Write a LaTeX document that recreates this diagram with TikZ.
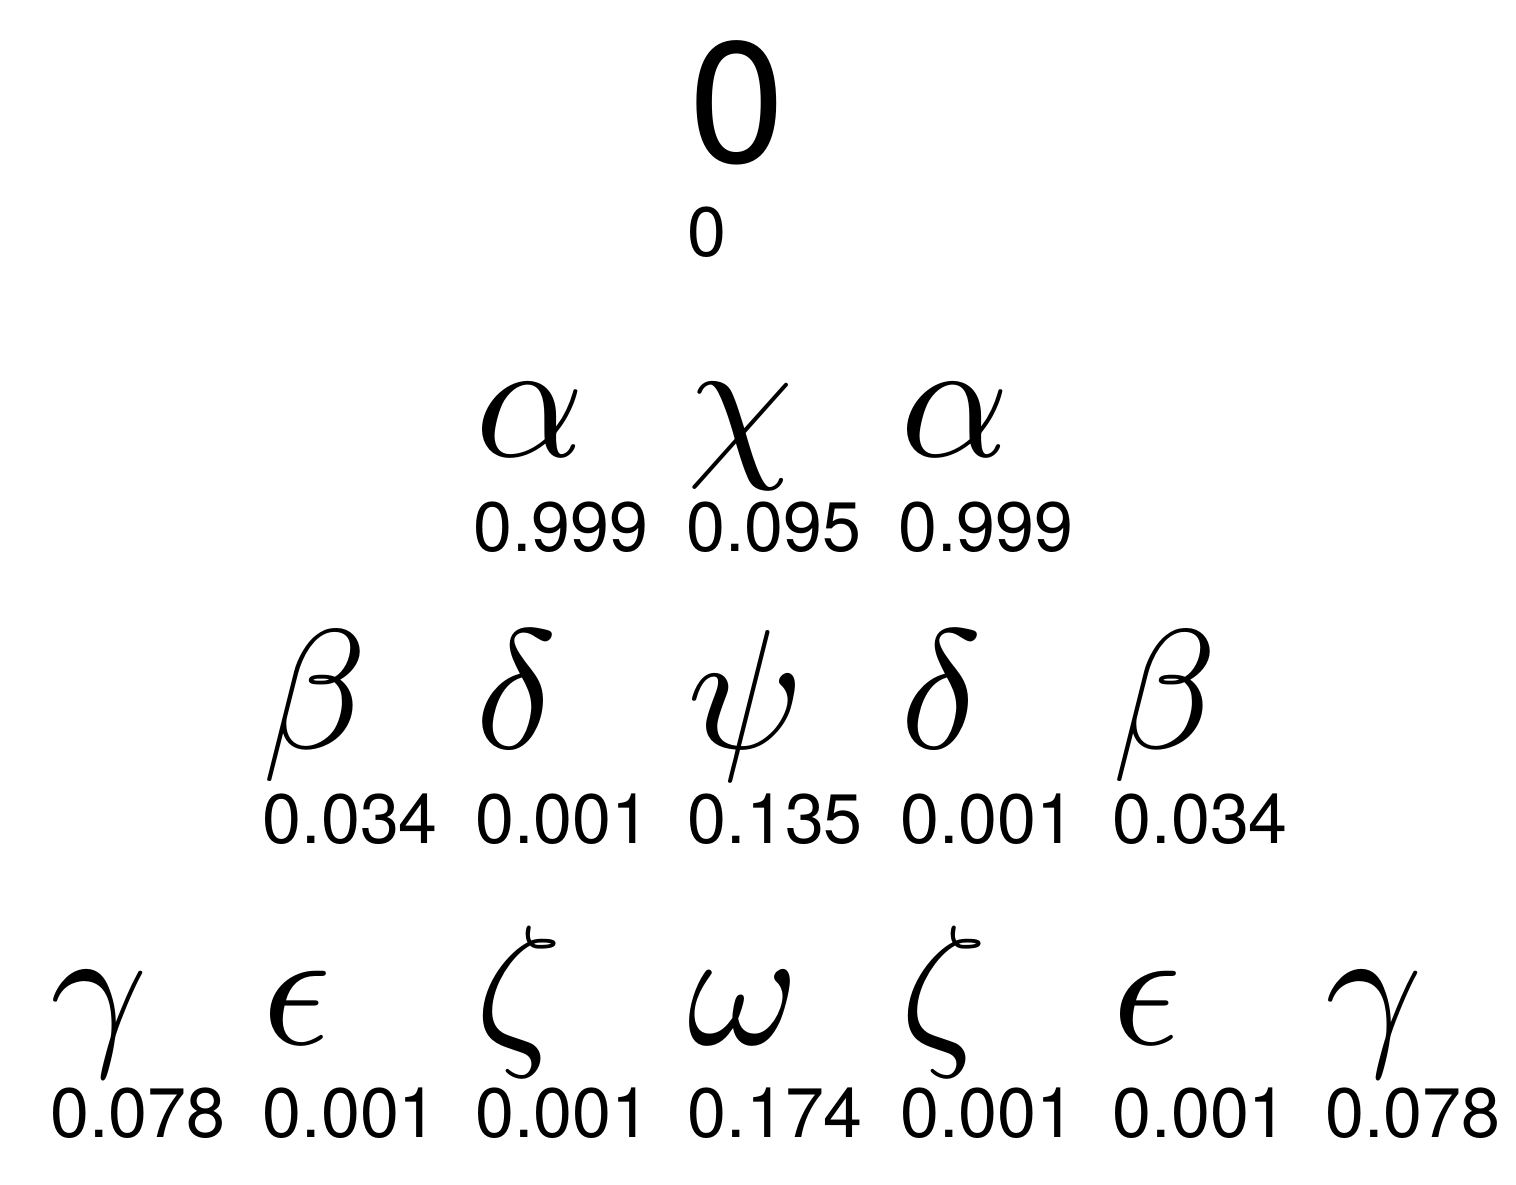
\documentclass[tikz,border=0pt]{standalone}
\usepackage{fontspec}
\setmainfont{TeX Gyre Heros}
\DeclareFontFamily{OML}{cmmx}{\skewchar\font'177}
\DeclareFontShape{OML}{cmmx}{m}{it}{<->cmmi10}{}
\DeclareSymbolFont{letters}{OML}{cmmx}{m}{it}
\tikzset{
  greek/.style={anchor=base west, inner sep=0pt, font=\fontsize{170}{170}\selectfont},
  weight/.style={anchor=base west, inner sep=0pt, font=\fontsize{70}{70}\selectfont},
  rootmark/.style={anchor=base west, inner sep=0pt, font=\fontsize{172}{172}\selectfont}
}

\begin{document}
\begin{tikzpicture}[x=1pt, y=-1pt]
  \useasboundingbox (0,0) rectangle (1516,1185);

  % Root
  \node[rootmark] (r0) at (689,163) {0};
  \node[weight] (w0) at (687.5,257) {0};

  % First row
  \node[greek] (a1) at (475,456) {$\alpha$};
  \node[greek] (x1) at (687.5,456) {$\chi$};
  \node[greek] (a2) at (900,456) {$\alpha$};
  \node[weight] (wa1) at (473,551) {0.999};
  \node[weight] (wx1) at (686,551) {0.095};
  \node[weight] (wa2) at (898,551) {0.999};

  % Second row
  \node[greek] (b1) at (262.5,748) {$\beta$};
  \node[greek] (d1) at (475,748) {$\delta$};
  \node[greek] (p1) at (687.5,748) {$\psi$};
  \node[greek] (d2) at (900,748) {$\delta$};
  \node[greek] (b2) at (1112.5,748) {$\beta$};
  \node[weight] (wb1) at (262.5,843) {0.034};
  \node[weight] (wd1) at (475,843) {0.001};
  \node[weight] (wp1) at (687.5,843) {0.135};
  \node[weight] (wd2) at (900,843) {0.001};
  \node[weight] (wb2) at (1112.5,843) {0.034};

  % Third row
  \node[greek] (g1) at (50,1044) {$\gamma$};
  \node[greek] (e1) at (262.5,1044) {$\epsilon$};
  \node[greek] (z1) at (475,1044) {$\zeta$};
  \node[greek] (o1) at (687.5,1044) {$\omega$};
  \node[greek] (z2) at (900,1044) {$\zeta$};
  \node[greek] (e2) at (1112.5,1044) {$\epsilon$};
  \node[greek] (g2) at (1325,1044) {$\gamma$};
  \node[weight] (wg1) at (50,1137) {0.078};
  \node[weight] (we1) at (262.5,1137) {0.001};
  \node[weight] (wz1) at (475,1137) {0.001};
  \node[weight] (wo1) at (687.5,1137) {0.174};
  \node[weight] (wz2) at (900,1137) {0.001};
  \node[weight] (we2) at (1112.5,1137) {0.001};
  \node[weight] (wg2) at (1325,1137) {0.078};
\end{tikzpicture}
\end{document}
